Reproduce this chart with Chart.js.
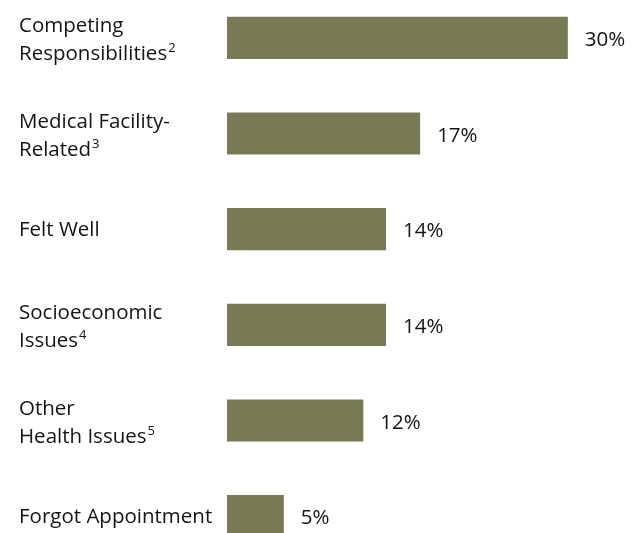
<!DOCTYPE html>
<html>
<head>
<meta charset="utf-8">
<script src="https://cdn.jsdelivr.net/npm/chart.js@4"></script>
<style>
  html, body { margin: 0; padding: 0; background: #fff; overflow: hidden; }
  #wrap { position: absolute; left: 0; top: -10px; width: 636px; height: 574px; }
</style>
</head>
<body>
<div id="wrap"><canvas id="reasonsChart"></canvas></div>
<script>
// reasons for missed appointments, share of responses (%)
const categories = [
    ['Competing', 'Responsibilities'],
    ['Medical Facility-', 'Related'],
    ['Felt Well'],
    ['Socioeconomic', 'Issues'],
    ['Other', 'Health Issues'],
    ['Forgot Appointment']
];
const footnotes = ['2', '3', '', '4', '5', ''];
const shares = [30, 17, 14, 14, 12, 5];

const barColor = '#787a56';
const textColor = '#141414';
const fontFamily = '"Open Sans", "Noto Sans", sans-serif';

// category text on the left, value text after each bar
const sideLabels = {
    id: 'sideLabels',
    afterDatasetsDraw(chart) {
        const { ctx, scales: { x, y } } = chart;
        ctx.save();
        ctx.fillStyle = textColor;
        ctx.textAlign = 'left';
        ctx.textBaseline = 'alphabetic';
        categories.forEach((lines, i) => {
            const cy = y.getPixelForValue(i);
            const first = lines.length === 1 ? cy + 7 : cy - 6;
            lines.forEach((line, j) => {
                const base = first + j * 28;
                ctx.font = '20.5px ' + fontFamily;
                ctx.fillText(line, 19, base);
                if (j === lines.length - 1 && footnotes[i]) {
                    const w = ctx.measureText(line).width;
                    ctx.font = '13px ' + fontFamily;
                    ctx.fillText(footnotes[i], 19 + w + 1, base - 8);
                }
            });
            ctx.font = '20.5px ' + fontFamily;
            ctx.fillText(shares[i] + '%', x.getPixelForValue(shares[i]) + 17, cy + 8);
        });
        ctx.restore();
    }
};

new Chart(document.getElementById('reasonsChart'), {
    type: 'bar',
    data: {
        labels: categories,
        datasets: [{
            data: shares,
            backgroundColor: barColor,
            borderWidth: 0,
            categoryPercentage: 1,
            barPercentage: 0.44
        }]
    },
    options: {
        indexAxis: 'y',
        responsive: true,
        maintainAspectRatio: false,
        animation: false,
        layout: { padding: { left: 227, right: 0, top: 0, bottom: 0 } },
        scales: {
            x: { display: false, min: 0, max: 36 },
            y: { display: false }
        },
        plugins: {
            legend: { display: false },
            tooltip: { enabled: false }
        }
    },
    plugins: [sideLabels]
});
</script>
</body>
</html>
